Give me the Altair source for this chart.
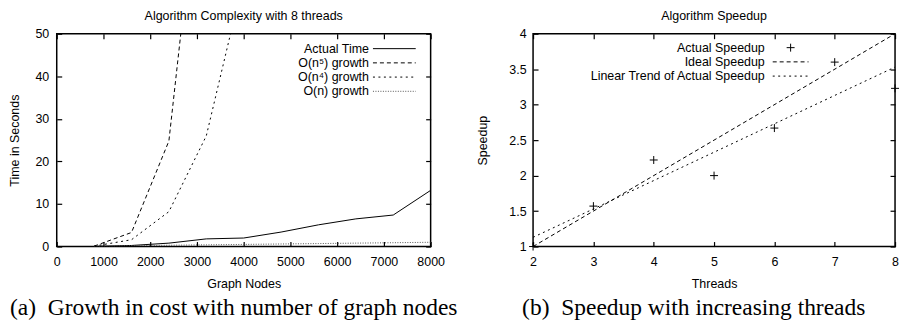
import altair as alt
import pandas as pd

FONT = "Liberation Sans"
SERIF = "Liberation Serif"

# ---------------- data: panel (a) ----------------
nodes = [800, 1600, 2400, 3200, 4000, 4800, 5600, 6400, 7200, 8000]
actual_time = [0.05, 0.25, 0.8, 1.8, 2.0, 3.4, 5.1, 6.5, 7.4, 13.2]
n5_nodes = [800, 1600, 2400, 3200]
n5_growth = [0.1, 3.3, 24.8, 104.0]
n4_nodes = [800, 1600, 2400, 3200, 4000]
n4_growth = [0.1, 1.6, 8.2, 26.0, 63.0]
n1_growth = [0.1, 0.2, 0.3, 0.4, 0.5, 0.6, 0.7, 0.8, 0.9, 1.0]
left_labels = ["Actual Time", "O(n\u2075) growth", "O(n\u2074) growth", "O(n) growth"]
x_ticks_a = [0, 1000, 2000, 3000, 4000, 5000, 6000, 7000, 8000]
y_ticks_a = [0, 10, 20, 30, 40, 50]

# ---------------- data: panel (b) ----------------
threads = [2, 3, 4, 5, 6, 7, 8]
actual_speedup = [1.0, 1.57, 2.22, 2.0, 2.67, 3.6, 3.23]
ideal_threads = [2, 8]
ideal_speedup = [1.0, 4.0]
trend_threads = [2, 8]
trend_speedup = [1.13, 3.53]
right_labels = ["Actual Speedup", "Ideal Speedup", "Linear Trend of Actual Speedup"]
x_ticks_b = [2, 3, 4, 5, 6, 7, 8]
y_ticks_b = [1, 1.5, 2, 2.5, 3, 3.5, 4]

captions = ["(a)\u2002Growth in cost with number of graph nodes",
            "(b)\u2002Speedup with increasing threads"]
titles = ["Algorithm Complexity with 8 threads", "Algorithm Speedup"]

W_A, W_B, H = 376, 364, 214
FS = 12.5

DASH_LONG = [4, 3]
DASH_SHORT = [2, 3.5]
DASH_DOT = [1, 1.5]


def label_x(values, title, fmt):
    return alt.Axis(values=values, format=fmt, orient="bottom", ticks=False, tickSize=0,
                    domain=False, grid=False, labelPadding=9, labelFont=FONT,
                    labelFontSize=FS, labelColor="black", labelFlush=False,
                    labelOverlap=False, title=title, titleFont=FONT, titleFontSize=FS,
                    titleFontWeight="normal", titleColor="black", titleY=37,
                    titleBaseline="middle", minExtent=0)


def label_y(values, title, fmt, tx, pad):
    return alt.Axis(values=values, format=fmt, orient="left", ticks=False, tickSize=0,
                    domain=False, grid=False, labelPadding=pad, labelFont=FONT,
                    labelFontSize=FS, labelColor="black", labelFlush=False,
                    labelOverlap=False, title=title, titleFont=FONT, titleFontSize=FS,
                    titleFontWeight="normal", titleColor="black", titleX=tx,
                    titleY=H / 2, titleBaseline="middle", titleAlign="center",
                    titleAngle=270, minExtent=0)


def tick_axis(values, orient):
    return alt.Axis(values=values, orient=orient, offset=-5, tickSize=5, ticks=True,
                    tickColor="black", tickWidth=1.2, labels=False, domain=False,
                    grid=False, title=None, minExtent=0, maxExtent=0)


def legend(labels, dashes, tx, lx1, lx2, y0, dy, point_sample=None):
    layers = []
    for i, lab in enumerate(labels):
        yy = y0 + i * dy
        layers.append(
            alt.Chart(pd.DataFrame({"label": [lab]})).mark_text(
                align="right", baseline="middle", font=FONT, fontSize=FS, color="black"
            ).encode(x=alt.value(tx), y=alt.value(yy), text="label:N")
        )
        if dashes[i] == "point":
            layers.append(
                alt.Chart(pd.DataFrame({"label": [lab]})).mark_point(
                    shape="M-1,0L1,0M0,-1L0,1", size=64, filled=False, stroke="black",
                    strokeWidth=1, opacity=1
                ).encode(x=alt.value(point_sample), y=alt.value(yy))
            )
        else:
            kw = dict(stroke=dashes[i][1], strokeWidth=1)
            if dashes[i][0] is not None:
                kw["strokeDash"] = dashes[i][0]
            layers.append(
                alt.Chart(pd.DataFrame({"label": [lab]})).mark_rule(**kw).encode(
                    x=alt.value(lx1), x2=alt.value(lx2), y=alt.value(yy))
            )
    return layers


def title_text(text, width):
    return alt.Chart(pd.DataFrame({"t": [text]})).mark_text(
        align="center", baseline="alphabetic", font=FONT, fontSize=FS, color="black"
    ).encode(x=alt.value(width / 2), y=alt.value(-14), text="t:N")


def caption_text(text, x0):
    return alt.Chart(pd.DataFrame({"c": [text]})).mark_text(
        align="left", baseline="middle", font=SERIF, fontSize=23.6, color="black"
    ).encode(x=alt.value(x0), y=alt.value(H + 61.5), text="c:N")


# ---------------- panel (a) ----------------
xs_a = alt.Scale(domain=[0, 8000], nice=False, zero=False)
ys_a = alt.Scale(domain=[0, 50], nice=False)

df_actual = pd.DataFrame({"n": nodes, "v": actual_time})
df_n5 = pd.DataFrame({"n": n5_nodes, "v": n5_growth})
df_n4 = pd.DataFrame({"n": n4_nodes, "v": n4_growth})
df_n1 = pd.DataFrame({"n": nodes, "v": n1_growth})

a1 = alt.Chart(df_actual).mark_line(stroke="black", strokeWidth=1, clip=True).encode(
    x=alt.X("n:Q", scale=xs_a, axis=label_x(x_ticks_a, "Graph Nodes", "d")),
    y=alt.Y("v:Q", scale=ys_a, axis=label_y(y_ticks_a, "Time in Seconds", "d", -42, 8)),
)
a2 = alt.Chart(df_n5).mark_line(stroke="black", strokeWidth=1, strokeDash=DASH_LONG, clip=True).encode(
    x=alt.X("n:Q", scale=xs_a, axis=tick_axis(x_ticks_a, "bottom")),
    y=alt.Y("v:Q", scale=ys_a, axis=tick_axis(y_ticks_a, "left")),
)
a3 = alt.Chart(df_n4).mark_line(stroke="black", strokeWidth=1, strokeDash=DASH_SHORT, clip=True).encode(
    x=alt.X("n:Q", scale=xs_a, axis=tick_axis(x_ticks_a, "top")),
    y=alt.Y("v:Q", scale=ys_a, axis=tick_axis(y_ticks_a, "right")),
)
a4 = alt.Chart(df_n1).mark_line(stroke="#555555", strokeWidth=1, strokeDash=DASH_DOT, clip=True).encode(
    x=alt.X("n:Q", scale=xs_a, axis=None),
    y=alt.Y("v:Q", scale=ys_a, axis=None),
)
leg_a = legend(left_labels,
               [(None, "black"), (DASH_LONG, "black"), (DASH_SHORT, "black"), (DASH_DOT, "#555555")],
               314, 318, 361, 15, 14.3)

panel_a = alt.layer(
    a1, a2, a3, a4, *leg_a, title_text(titles[0], W_A), caption_text(captions[0], -47)
).resolve_axis(x="independent", y="independent").properties(width=W_A, height=H)

# ---------------- panel (b) ----------------
xs_b = alt.Scale(domain=[2, 8], nice=False, zero=False)
ys_b = alt.Scale(domain=[1, 4], nice=False, zero=False)

df_pts = pd.DataFrame({"t": threads, "s": actual_speedup})
df_ideal = pd.DataFrame({"t": ideal_threads, "s": ideal_speedup})
df_trend = pd.DataFrame({"t": trend_threads, "s": trend_speedup})

b1 = alt.Chart(df_pts).mark_point(
    shape="M-1,0L1,0M0,-1L0,1", size=64, filled=False, stroke="black", strokeWidth=1, opacity=1
).encode(
    x=alt.X("t:Q", scale=xs_b, axis=label_x(x_ticks_b, "Threads", "d")),
    y=alt.Y("s:Q", scale=ys_b, axis=label_y(y_ticks_b, "Speedup", "~g", -51, 7)),
)
b2 = alt.Chart(df_ideal).mark_line(stroke="black", strokeWidth=1, strokeDash=DASH_LONG).encode(
    x=alt.X("t:Q", scale=xs_b, axis=tick_axis(x_ticks_b, "bottom")),
    y=alt.Y("s:Q", scale=ys_b, axis=tick_axis(y_ticks_b, "left")),
)
b3 = alt.Chart(df_trend).mark_line(stroke="black", strokeWidth=1, strokeDash=DASH_SHORT).encode(
    x=alt.X("t:Q", scale=xs_b, axis=tick_axis(x_ticks_b, "top")),
    y=alt.Y("s:Q", scale=ys_b, axis=tick_axis(y_ticks_b, "right")),
)
leg_b = legend(right_labels, ["point", (DASH_LONG, "black"), (DASH_SHORT, "black")],
               233, 241, 277, 14, 14.3, point_sample=259)

panel_b = alt.layer(
    b1, b2, b3, *leg_b, title_text(titles[1], W_B), caption_text(captions[1], -11)
).resolve_axis(x="independent", y="independent").properties(width=W_B, height=H)

chart = alt.hconcat(panel_a, panel_b, spacing=103, bounds="flush").properties(
    padding=0
).configure_view(stroke="black", strokeWidth=1.5)

chart.save("out.html", embed_options={"renderer": "svg", "actions": False})
